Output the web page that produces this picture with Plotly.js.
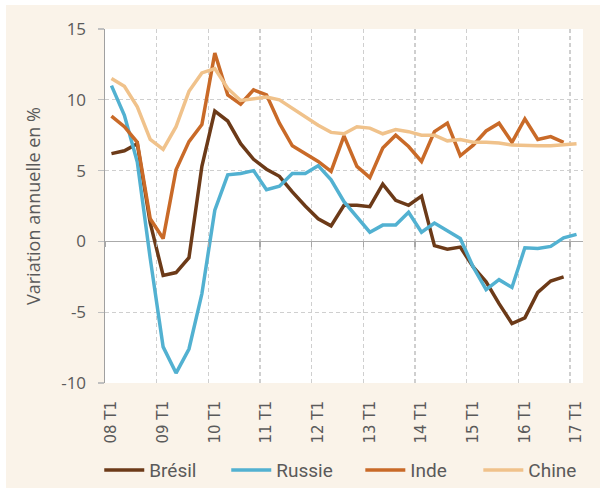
<!DOCTYPE html>
<html>
<head>
<meta charset="utf-8">
<script src="https://cdn.plot.ly/plotly-3.0.1.min.js"></script>
<style>
  html, body { margin: 0; padding: 0; background: #ffffff; width: 600px; height: 488px; overflow: hidden; }
  #chart { position: absolute; left: 6px; top: 5px; width: 594px; height: 483px; }
</style>
</head>
<body>
<div id="chart"></div>
<script>
// Quarters 08 T1 ... 17 T1
const years = ["08","09","10","11","12","13","14","15","16","17"];
const quarters = [];
years.forEach(function (y) { ["T1","T2","T3","T4"].forEach(function (q) { quarters.push(y + " " + q); }); });
quarters.length = 37; // up to 17 T1

// y-axis ticks (hyphen minus as in the original)
const yTickVals = [-10, -5, 0, 5, 10, 15];
const yTickText = ["-10", "-5", "0", "5", "10", "15"];

const bresil = [6.2, 6.4, 6.9, 1.3, -2.4, -2.2, -1.15, 5.3, 9.2, 8.5, 6.9, 5.8,
  5.1, 4.6, 3.5, 2.5, 1.6, 1.1, 2.55, 2.55, 2.45, 4.05, 2.9, 2.55,
  3.2, -0.3, -0.55, -0.4, -1.8, -2.85, -4.4, -5.8, -5.4, -3.6, -2.8, -2.5, null];

const russie = [11.0, 8.9, 5.6, -1.2, -7.45, -9.3, -7.6, -3.7, 2.2, 4.7, 4.8, 5.0,
  3.65, 3.9, 4.8, 4.8, 5.35, 4.35, 2.8, 1.7, 0.65, 1.15, 1.15, 2.05,
  0.65, 1.3, 0.75, 0.2, -1.8, -3.4, -2.7, -3.25, -0.45, -0.5, -0.35, 0.25, 0.5];

const inde = [8.85, 8.1, 7.0, 1.6, 0.2, 5.05, 7.05, 8.25, 13.3, 10.35, 9.7, 10.7,
  10.35, 8.35, 6.75, 6.2, 5.65, 4.95, 7.45, 5.3, 4.5, 6.6, 7.5, 6.7,
  5.65, 7.75, 8.35, 6.05, 6.8, 7.8, 8.35, 7.0, 8.65, 7.2, 7.4, 7.0, null];

const chine = [11.5, 10.95, 9.5, 7.2, 6.5, 8.1, 10.6, 11.9, 12.2, 10.8, 9.95, 10.05,
  10.2, 10.0, 9.4, 8.8, 8.2, 7.7, 7.6, 8.1, 8.0, 7.6, 7.9, 7.75,
  7.5, 7.5, 7.1, 7.2, 7.0, 7.0, 6.95, 6.8, 6.75, 6.75, 6.75, 6.85, 6.9];

const seriesNames = ["Brésil", "Russie", "Inde", "Chine"];
const seriesData = [bresil, russie, inde, chine];
const seriesColors = ["#6c3a18", "#52b1d1", "#c96a28", "#f0c28b"];
const seriesLegend = ["legend", "legend", "legend2", "legend2"];

const traces = seriesNames.map(function (name, k) {
  return {
    type: "scatter", mode: "lines", name: name,
    x: quarters, y: seriesData[k], legend: seriesLegend[k],
    line: { color: seriesColors[k], width: 3.5 },
    connectgaps: false, hoverinfo: "skip"
  };
});
// invisible helper trace carrying the tick axis drawn on the zero line
traces.push({
  type: "scatter", mode: "lines", x: quarters, y: chine, xaxis: "x2",
  line: { width: 0 }, opacity: 0, showlegend: false, hoverinfo: "skip"
});

const gridColor = "#cfcfcf";
const textColor = "#5a5a5a";
const legendFont = { family: "Roboto", size: 19, color: textColor };

const layout = {
  width: 594, height: 483,
  paper_bgcolor: "#faf3e9",
  plot_bgcolor: "#ffffff",
  margin: { l: 99, r: 17, t: 24, b: 105, autoexpand: false },
  showlegend: true,
  xaxis: {
    type: "category", automargin: false,
    categoryorder: "array", categoryarray: quarters,
    range: [-0.5, 36.5],
    tickmode: "linear", tick0: 0, dtick: 4,
    tickson: "boundaries",
    ticks: "", tickangle: -90,
    showgrid: true, gridcolor: gridColor, gridwidth: 1.3, griddash: "4px,3px",
    showline: false, zeroline: false,
    tickfont: { family: "DejaVu Sans", size: 15, color: textColor },
    ticklabelstandoff: 14
  },
  xaxis2: {
    type: "category", automargin: false,
    categoryorder: "array", categoryarray: quarters,
    range: [-0.5, 36.5],
    overlaying: "x", anchor: "free", position: 0.4,
    tickmode: "linear", tick0: 0, dtick: 4,
    tickson: "boundaries",
    ticks: "outside", ticklen: 5, tickwidth: 1.5, tickcolor: "#a8a8a8",
    showticklabels: false, showgrid: false, showline: false, zeroline: false
  },
  yaxis: {
    automargin: false,
    range: [-10, 15],
    tickmode: "array", tickvals: yTickVals, ticktext: yTickText,
    ticks: "outside", ticklen: 6, tickwidth: 1.2, tickcolor: "#c0c0c0",
    showgrid: true, gridcolor: gridColor, gridwidth: 1.3, griddash: "4px,3px",
    zeroline: true, zerolinecolor: "#aaaaaa", zerolinewidth: 1.6,
    showline: true, linecolor: "#a0a0a0", linewidth: 1.5,
    tickfont: { family: "Open Sans", size: 17, color: textColor },
    ticklabelstandoff: 8,
    title: { text: "Variation annuelle en %", font: { family: "Open Sans", size: 18, color: textColor }, standoff: 16 }
  },
  legend: {
    orientation: "h", xref: "container", x: 0.157, xanchor: "left",
    yref: "container", y: 0.037, yanchor: "middle",
    font: legendFont,
    bgcolor: "rgba(0,0,0,0)", itemwidth: 40, tracegroupgap: 0,
    entrywidth: 72, entrywidthmode: "pixels"
  },
  legend2: {
    orientation: "h", xref: "container", x: 0.5965, xanchor: "left",
    yref: "container", y: 0.037, yanchor: "middle",
    font: legendFont,
    bgcolor: "rgba(0,0,0,0)", itemwidth: 40, tracegroupgap: 0,
    entrywidth: 63, entrywidthmode: "pixels"
  }
};

Plotly.newPlot("chart", traces, layout, { staticPlot: true, displayModeBar: false });
</script>
</body>
</html>
